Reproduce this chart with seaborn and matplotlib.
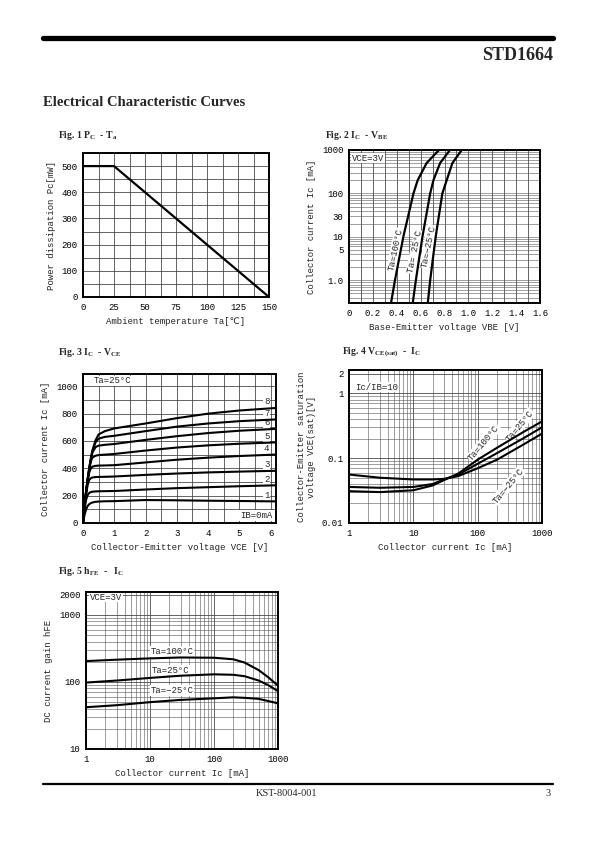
import matplotlib
matplotlib.use("Agg")
import matplotlib.pyplot as plt
import seaborn as sns
import pandas as pd
from matplotlib.lines import Line2D
from matplotlib.ticker import FixedLocator, NullFormatter, LogLocator, MultipleLocator


# Fig. 1  Pc - Ta
ta_deg = [0, 25, 150]
pc_mw = [500, 500, 0]

# Fig. 2  Ic - Vbe  (Vce = 3V)
ic_vbe = [0.3, 1, 10, 100, 200, 500, 1000]
vbe_100 = [0.352, 0.385, 0.455, 0.54, 0.575, 0.65, 0.754]
vbe_25 = [0.534, 0.56, 0.615, 0.68, 0.707, 0.763, 0.846]
vbe_m25 = [0.66, 0.68, 0.726, 0.782, 0.818, 0.866, 0.944]

# Fig. 3  Ic - Vce  (Ta = 25C), one list per base current
vce = [0, 0.05, 0.1, 0.15, 0.2, 0.25, 0.3, 0.4, 0.5, 0.7, 1.0, 2, 3, 4, 5, 6.2]
ic_ib = {
    1: [0, 60, 100, 125, 138, 145, 150, 155, 157, 159, 160, 168, 166, 163, 161, 158],
    2: [0, 100, 170, 205, 220, 226, 229, 231, 232, 233, 234, 245, 255, 262, 269, 276],
    3: [0, 115, 210, 280, 315, 328, 333, 336, 337, 338, 340, 352, 362, 370, 376, 382],
    4: [0, 125, 225, 310, 370, 400, 412, 418, 420, 421, 423, 443, 463, 478, 490, 501],
    5: [0, 128, 230, 318, 390, 450, 478, 492, 497, 500, 505, 530, 552, 568, 580, 590],
    6: [0, 130, 232, 320, 398, 462, 515, 555, 566, 572, 578, 608, 635, 658, 675, 689],
    7: [0, 130, 233, 322, 400, 468, 525, 590, 617, 630, 638, 672, 705, 728, 745, 758],
    8: [0, 130, 234, 324, 402, 472, 530, 605, 648, 672, 692, 728, 767, 800, 823, 842],
}

# Fig. 4  Vce(sat) - Ic  (Ic/Ib = 10)
ic_sat = [1, 3, 10, 20, 30, 50, 100, 200, 500, 1000]
vsat_100 = [0.031, 0.030, 0.032, 0.038, 0.046, 0.058, 0.095, 0.145, 0.25, 0.37]
vsat_25 = [0.036, 0.035, 0.036, 0.040, 0.047, 0.056, 0.082, 0.12, 0.20, 0.30]
vsat_m25 = [0.056, 0.050, 0.047, 0.047, 0.048, 0.053, 0.070, 0.095, 0.16, 0.24]

# Fig. 5  hFE - Ic  (Vce = 3V)
ic_hfe = [1, 3, 10, 30, 100, 200, 300, 500, 700, 1000]
hfe_100 = [205, 215, 225, 232, 230, 218, 195, 150, 118, 88]
hfe_25 = [98, 105, 115, 124, 130, 128, 122, 105, 90, 73]
hfe_m25 = [42, 45, 50, 54, 57, 59, 58, 56, 52, 48]


sns.set_theme(style="white")
MONO = ["Liberation Mono", "DejaVu Sans Mono", "DejaVu Sans"]
SERIF = ["Liberation Serif", "DejaVu Serif"]
plt.rcParams["font.family"] = MONO
plt.rcParams["axes.edgecolor"] = "black"
plt.rcParams["axes.linewidth"] = 1.4
plt.rcParams["xtick.color"] = "black"
plt.rcParams["ytick.color"] = "black"

W, H = 595, 842
fig = plt.figure(figsize=(W / 100, H / 100), dpi=100)
fig.patch.set_facecolor("white")


def box(l, t, r, b):
    return [l / W, 1 - b / H, (r - l) / W, (b - t) / H]


def style(ax, fs=6.5):
    ax.tick_params(axis="both", which="both", labelsize=fs, length=2,
                   direction="out", pad=2)
    ax.tick_params(which="minor", length=0)
    for s in ax.spines.values():
        s.set_visible(True)
        s.set_linewidth(1.4)
        s.set_zorder(5)
    ax.set_axisbelow(True)


GRID = dict(color="#3a3a3a", linewidth=0.55)
GRID_MIN = dict(color="#555555", linewidth=0.4)
LBL = dict(fontsize=6.5, color="#222222")
WB = dict(facecolor="white", edgecolor="none", pad=0.6)
CURVE = dict(color="black", zorder=4)


def note(ax, x, y, s, **kw):
    # annotation sits over the grid but under the curves
    ax.text(x, y, s, fontsize=6.5, zorder=3, bbox=WB, **kw)


# ---------------- header / footer ----------------
fig.add_artist(Line2D([43 / W, 553 / W], [1 - 38 / H] * 2, color="black", lw=3.8))
fig.text(553 / W, 1 - 55 / H, "STD1664", ha="right", va="center",
         fontsize=13, fontweight="bold", family=SERIF)
fig.text(43 / W, 1 - 102 / H, "Electrical Characteristic Curves", ha="left",
         va="center", fontsize=10.5, fontweight="bold", family=SERIF)
fig.add_artist(Line2D([43 / W, 553 / W], [1 - 784 / H] * 2, color="black", lw=1.6))
fig.text(287 / W, 1 - 794 / H, "KST-8004-001", ha="center", va="center",
         fontsize=7.5, family=SERIF)
fig.text(551 / W, 1 - 794 / H, "3", ha="right", va="center",
         fontsize=7.5, family=SERIF)


def fig_title(x, y, s):
    fig.text(x / W, 1 - y / H, s, ha="left", va="center", fontsize=7,
             fontweight="bold", family=SERIF)


fig_title(58, 135, r"Fig. 1 P$_\mathregular{C}$  - T$_\mathregular{a}$")
fig_title(325, 135, r"Fig. 2 I$_\mathregular{C}$  - V$_\mathregular{BE}$")
fig_title(58, 352, r"Fig. 3 I$_\mathregular{C}$  - V$_\mathregular{CE}$")
fig_title(342, 352, r"Fig. 4 V$_\mathregular{CE(sat)}$  -  I$_\mathregular{C}$")
fig_title(58, 572, r"Fig. 5 h$_\mathregular{FE}$  -   I$_\mathregular{C}$")

# ---------------- Fig. 1 ----------------
ax1 = fig.add_axes(box(83, 153, 269, 297))
style(ax1)
sns.lineplot(x=ta_deg, y=pc_mw, ax=ax1, lw=1.6, **CURVE)
ax1.set_xlim(0, 150)
ax1.set_ylim(0, 550)
ax1.xaxis.set_major_locator(MultipleLocator(25))
ax1.xaxis.set_minor_locator(MultipleLocator(12.5))
ax1.yaxis.set_major_locator(FixedLocator([0, 100, 200, 300, 400, 500]))
ax1.yaxis.set_minor_locator(MultipleLocator(50))
ax1.grid(which="both", **GRID)
ax1.set_xlabel("Ambient temperature Ta[℃]", **LBL)
ax1.set_ylabel("Power dissipation Pc[mW]", **LBL)

# ---------------- Fig. 2 ----------------
ax2 = fig.add_axes(box(349, 150, 540, 303))
style(ax2)
for v in (vbe_100, vbe_25, vbe_m25):
    sns.lineplot(x=v, y=ic_vbe, ax=ax2, lw=1.6, sort=False, **CURVE)
ax2.set_yscale("log")
ax2.set_xlim(0, 1.6)
ax2.set_ylim(0.3, 1000)
ax2.xaxis.set_major_locator(FixedLocator([0, 0.2, 0.4, 0.6, 0.8, 1.0, 1.2, 1.4, 1.6]))
ax2.set_xticklabels(["0", "0.2", "0.4", "0.6", "0.8", "1.0", "1.2", "1.4", "1.6"])
ax2.xaxis.set_minor_locator(MultipleLocator(0.1))
ax2.yaxis.set_major_locator(FixedLocator([1, 5, 10, 30, 100, 1000]))
ax2.set_yticklabels(["1.0", "5", "10", "30", "100", "1000"])
ax2.yaxis.set_minor_locator(LogLocator(base=10, subs=range(2, 10), numticks=20))
ax2.yaxis.set_minor_formatter(NullFormatter())
ax2.grid(which="both", axis="x", **GRID)
ax2.grid(which="both", axis="y", **GRID_MIN)
ax2.set_xlabel("Base-Emitter voltage VBE [V]", **LBL)
ax2.set_ylabel("Collector current Ic [mA]", **LBL)
note(ax2, 0.025, 650, "VCE=3V", ha="left", va="center")
for xx, yy, s in [(0.39, 5, "Ta=100°C"), (0.555, 4.5, "Ta= 25°C"), (0.665, 6, "Ta=−25°C")]:
    note(ax2, xx, yy, s, rotation=78, ha="center", va="center")

# ---------------- Fig. 3 ----------------
ax3 = fig.add_axes(box(83, 374, 276, 523))
style(ax3)
rows = []
for ib, vals in ic_ib.items():
    for v, i in zip(vce, vals):
        rows.append({"Vce": v, "Ic": i, "Ib": ib})
df3 = pd.DataFrame(rows)
sns.lineplot(data=df3, x="Vce", y="Ic", units="Ib", estimator=None, ax=ax3,
             lw=1.5, **CURVE)
ax3.set_xlim(0, 6.17)
ax3.set_ylim(0, 1090)
ax3.xaxis.set_major_locator(MultipleLocator(1))
ax3.xaxis.set_minor_locator(MultipleLocator(0.5))
ax3.yaxis.set_major_locator(MultipleLocator(200))
ax3.yaxis.set_minor_locator(MultipleLocator(100))
ax3.grid(which="both", **GRID)
ax3.set_xlabel("Collector-Emitter voltage VCE [V]", **LBL)
ax3.set_ylabel("Collector current Ic [mA]", **LBL)
for ib, vals in ic_ib.items():
    note(ax3, 5.87, vals[-1] + 12, str(ib), ha="center", va="bottom")
note(ax3, 0.35, 1040, "Ta=25°C", ha="left", va="center")
note(ax3, 6.05, 55, "IB=0mA", ha="right", va="center")

# ---------------- Fig. 4 ----------------
ax4 = fig.add_axes(box(349, 370, 542, 523))
style(ax4)
for v in (vsat_100, vsat_25, vsat_m25):
    sns.lineplot(x=ic_sat, y=v, ax=ax4, lw=1.5, **CURVE)
ax4.set_xscale("log")
ax4.set_yscale("log")
ax4.set_xlim(1, 1000)
ax4.set_ylim(0.01, 2.3)
ax4.xaxis.set_major_locator(FixedLocator([1, 10, 100, 1000]))
ax4.set_xticklabels(["1", "10", "100", "1000"])
ax4.yaxis.set_major_locator(FixedLocator([0.01, 0.1, 1, 2]))
ax4.set_yticklabels(["0.01", "0.1", "1", "2"])
for a in (ax4.xaxis, ax4.yaxis):
    a.set_minor_locator(LogLocator(base=10, subs=range(2, 10), numticks=20))
    a.set_minor_formatter(NullFormatter())
ax4.grid(which="major", **GRID)
ax4.grid(which="minor", **GRID_MIN)
ax4.set_xlabel("Collector current Ic [mA]", **LBL)
ax4.set_ylabel("Collector-Emitter saturation\nvoltage VCE(sat)[V]", **LBL)
note(ax4, 1.25, 1.25, "Ic/IB=10", ha="left", va="center")
note(ax4, 125, 0.175, "Ta=100°C", rotation=50, ha="center", va="center")
note(ax4, 450, 0.32, "Ta=25°C", rotation=50, ha="center", va="center")
note(ax4, 300, 0.038, "Ta=−25°C", rotation=50, ha="center", va="center")

# ---------------- Fig. 5 ----------------
ax5 = fig.add_axes(box(86, 592, 278, 749))
style(ax5)
for v in (hfe_100, hfe_25, hfe_m25):
    sns.lineplot(x=ic_hfe, y=v, ax=ax5, lw=1.5, **CURVE)
ax5.set_xscale("log")
ax5.set_yscale("log")
ax5.set_xlim(1, 1000)
ax5.set_ylim(10, 2200)
ax5.xaxis.set_major_locator(FixedLocator([1, 10, 100, 1000]))
ax5.set_xticklabels(["1", "10", "100", "1000"])
ax5.yaxis.set_major_locator(FixedLocator([10, 100, 1000, 2000]))
ax5.set_yticklabels(["10", "100", "1000", "2000"])
for a in (ax5.xaxis, ax5.yaxis):
    a.set_minor_locator(LogLocator(base=10, subs=range(2, 10), numticks=20))
    a.set_minor_formatter(NullFormatter())
ax5.grid(which="major", **GRID)
ax5.grid(which="minor", **GRID_MIN)
ax5.set_xlabel("Collector current Ic [mA]", **LBL)
ax5.set_ylabel("DC current gain hFE", **LBL)
note(ax5, 1.15, 1850, "VCE=3V", ha="left", va="center")
note(ax5, 22, 286, "Ta=100°C", ha="center", va="center")
note(ax5, 21, 150, "Ta=25°C", ha="center", va="center")
note(ax5, 22, 74, "Ta=−25°C", ha="center", va="center")

fig.savefig("out.png", dpi=100, facecolor="white")
